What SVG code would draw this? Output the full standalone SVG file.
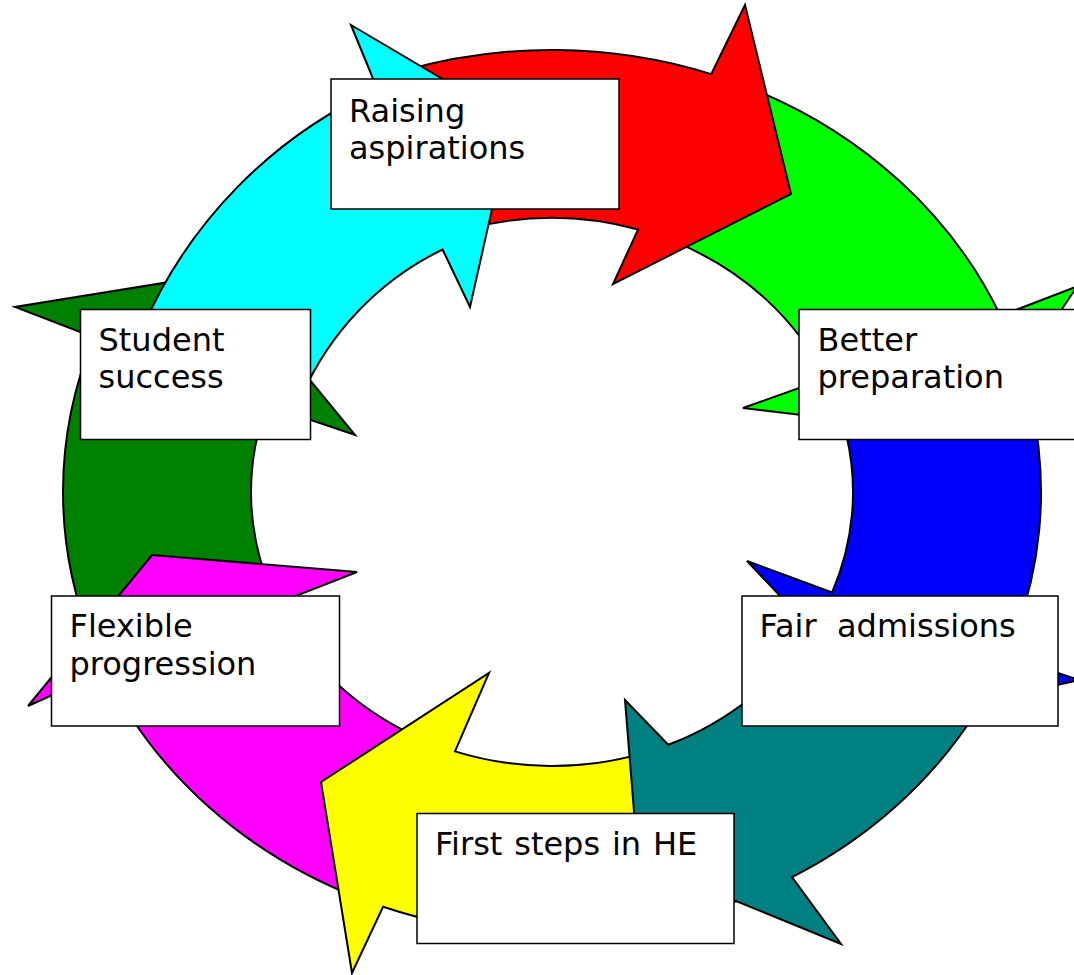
<svg xmlns="http://www.w3.org/2000/svg" width="1074" height="975" viewBox="0 0 1074 975">
<style>
.arrow{stroke:#000;stroke-width:2;stroke-linejoin:miter}
.box{fill:#fff;stroke:#000;stroke-width:1.5}
.label{font-family:"DejaVu Sans",Verdana,sans-serif;font-size:32px;fill:#000;white-space:pre}
</style>
<rect width="1074" height="975" fill="#fff"/>
<g id="connectors">
<path id="arrow-success" class="arrow" fill="#008000" d="M92.5 643.2 A489 442 0 0 1 94 337.2 L15 307 L222.5 273.4 L355 435 L266.6 405.1 A301 274 0 0 0 272.9 594.6 Z"/>
<path id="arrow-flexible" class="arrow" fill="#FF00FF" d="M360.9 898.9 A489 442 0 0 1 104.9 671.1 L28 706 L152 555 L357 572 L277 603.4 A301 274 0 0 0 424.8 740.3 Z"/>
<path id="arrow-firststeps" class="arrow" fill="#FFFF00" d="M750.9 895.8 A489 442 0 0 1 383.1 906.8 L352 973 L321 782 L489 673 L455 751.4 A301 274 0 0 0 645 752.6 Z"/>
<path id="arrow-fair" class="arrow" fill="#008080" d="M975.5 713 A489 442 0 0 1 792 877.1 L841 944 L638 861 L625 700 L668.2 744.8 A301 274 0 0 0 812.7 629 Z"/>
<path id="arrow-blue" class="arrow" fill="#0000FF" d="M1030.3 400.1 A489 442 0 0 1 1006.2 655.8 L1079 680 L898 721 L747 561 L832.1 592.4 A301 274 0 0 0 846.4 435 Z"/>
<path id="arrow-better" class="arrow" fill="#00FF00" d="M750.9 88.2 A489 442 0 0 1 1000.5 315.8 L1077 286.5 L977 436 L743 408 L825.9 378.4 A301 274 0 0 0 679.2 243.7 Z"/>
<path id="arrow-red" class="arrow" fill="#FF0000" d="M400.9 71.6 A489 442 0 0 1 711.2 74.1 L745 5 L791 194 L613 284 L638.1 229.5 A301 274 0 0 0 469 228.6 Z"/>
<path id="arrow-raising" class="arrow" fill="#00FFFF" d="M142.7 327.8 A467 467 0 0 1 377.3 89 L351 25 L512 120 L470 307 L442.6 249.5 A294 294 0 0 0 301.4 396.8 Z"/>
</g>
<g id="node-raising">
<rect class="box" x="331" y="79" width="288" height="130"/>
<text class="label" x="349" y="122">Raising</text>
<text class="label" x="349" y="159">aspirations</text>
</g>
<g id="node-better">
<rect class="box" x="799" y="309.5" width="290" height="130"/>
<text class="label" x="817.5" y="351">Better</text>
<text class="label" x="817.5" y="388">preparation</text>
</g>
<g id="node-fair">
<rect class="box" x="742" y="596" width="316" height="130"/>
<text class="label" x="759.5" y="637" xml:space="preserve">Fair  admissions</text>
</g>
<g id="node-firststeps">
<rect class="box" x="417" y="813.5" width="317" height="130"/>
<text class="label" x="435" y="854.5" word-spacing="1.7">First steps in HE</text>
</g>
<g id="node-flexible">
<rect class="box" x="51.5" y="596" width="288" height="130"/>
<text class="label" x="69.5" y="637">Flexible</text>
<text class="label" x="69.5" y="674.5">progression</text>
</g>
<g id="node-success">
<rect class="box" x="80.5" y="309.5" width="230" height="130"/>
<text class="label" x="98.5" y="351">Student</text>
<text class="label" x="98.5" y="388">success</text>
</g>
</svg>
